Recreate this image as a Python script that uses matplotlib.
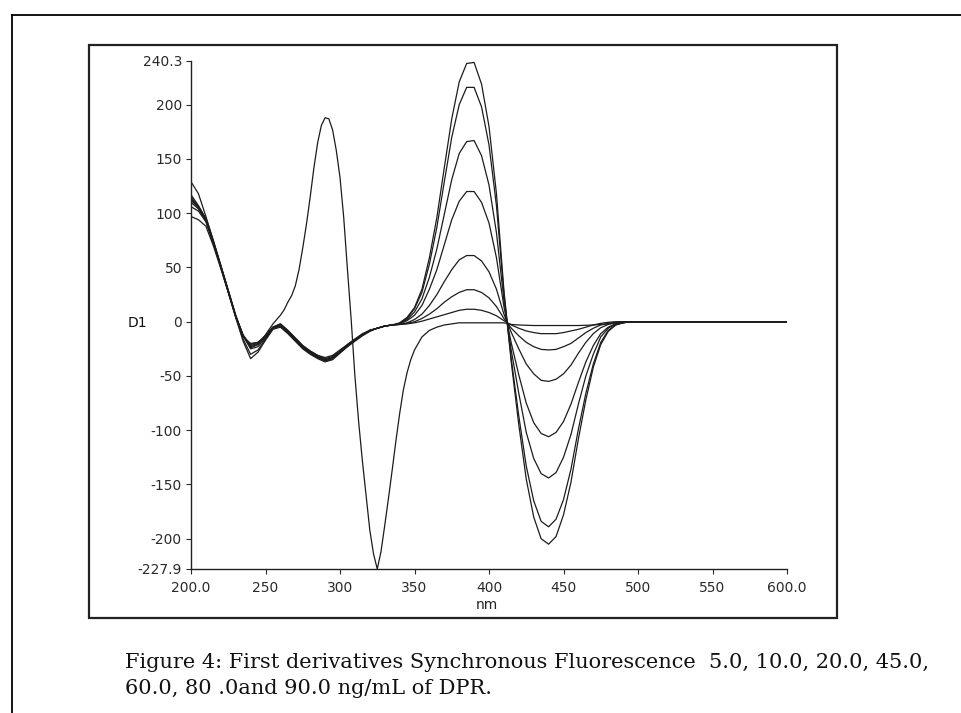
import matplotlib
matplotlib.use('Agg')
import matplotlib.pyplot as plt
import matplotlib.patches as patches
from matplotlib.lines import Line2D

# wavelength grid (nm), flat tail up to 600
nm = list(range(200, 505, 5)) + [600]

# first-derivative curves, one per concentration (ng/mL)
d1_90 = [113, 106, 95, 74, 51, 28, 5, -13, -22, -20,
         -13, -5, -3, -9, -16, -23, -28, -32, -35, -33,
         -28, -22, -17, -12, -8, -6, -4, -3, -1, 4,
         13, 30, 59, 96, 142, 187, 221, 238, 239, 219,
         180, 118, 29, -38, -95, -145, -180, -200, -205, -198,
         -178, -148, -108, -72, -42, -21, -9, -3, -1, 0,
         0, 0]
d1_80 = [117, 107, 95, 74, 52, 29, 6, -13, -21, -19,
         -13, -5, -2, -8, -15, -22, -27, -31, -34, -32,
         -27, -21, -16, -12, -8, -6, -4, -3, -1.5, 3,
         12, 27, 53, 87, 129, 170, 200, 216, 216, 198,
         163, 107, 26, -35, -87, -133, -165, -184, -189, -182,
         -164, -136, -99, -66, -39, -19, -8, -3, -1, 0,
         0, 0]
d1_60 = [129, 118, 97, 75, 52, 29, 6, -14, -20, -19,
         -13, -5, -2, -8, -15, -22, -27, -31, -33, -31,
         -26, -21, -16, -11, -8, -6, -4, -3, -2, 2,
         9, 21, 41, 67, 99, 131, 155, 166, 167, 153,
         126, 82, 20, -27, -66, -102, -126, -140, -144, -139,
         -125, -104, -76, -50, -30, -14, -6, -2, -1, 0,
         0, 0]
d1_45 = [110, 104, 93, 73, 51, 28, 5, -12, -23, -21,
         -14, -6, -3, -9, -16, -23, -28, -32, -35, -33,
         -28, -22, -17, -12, -8, -6, -4, -3, -2, 1,
         6, 15, 30, 48, 71, 94, 111, 120, 120, 110,
         91, 59, 14, -20, -49, -75, -93, -103, -106, -102,
         -92, -76, -56, -37, -22, -11, -5, -2, -0.5, 0,
         0, 0]
d1_20 = [115, 106, 94, 74, 51, 28, 5, -13, -25, -23,
         -15, -6, -4, -10, -17, -24, -29, -33, -36, -34,
         -28, -22, -17, -12, -8, -6, -4, -3, -2.5, -1,
         2, 7, 15, 25, 37, 48, 57, 61, 61, 56,
         46, 30, 7, -10, -25, -39, -48, -54, -55, -53,
         -48, -40, -29, -19, -11, -5.5, -2.5, -1, 0, 0,
         0, 0]
d1_10 = [106, 102, 92, 72, 50, 27, 4, -16, -30, -26,
         -16, -6, -4, -10, -17, -24, -29, -33, -36, -34,
         -28, -23, -17, -12, -8, -6, -4, -3, -2.5, -1.5,
         0, 3, 7, 12, 18, 23, 27, 29.5, 29.5, 27,
         22, 14, 3, -6, -13, -19, -23, -25.5, -26, -25.5,
         -23, -20, -15, -10, -6, -3, -1.5, -0.5, 0, 0,
         0, 0]
d1_5 = [97, 94, 88, 70, 49, 27, 4, -18, -34, -28,
        -17, -7, -5, -11, -18, -25, -30, -34, -37, -35,
        -29, -23, -18, -13, -9, -6, -4, -3, -2.5, -2,
        -1, 0.5, 2.5, 4.5, 6.5, 8.5, 10.5, 11.5, 11.5, 10.5,
        8.5, 5.5, 1, -3, -6, -8.5, -10, -11, -11, -11,
        -10, -8.5, -7, -5, -3, -1.5, -0.5, 0, 0, 0,
        0, 0]

# the extra trace with the band at 290 / 325 nm, read on a finer grid there
nm_other = ([200, 205, 210, 215, 220, 225, 230, 235, 240, 245, 250, 255]
            + [260 + 2.5 * i for i in range(37)]
            + [355, 360, 365, 370, 375, 380, 390, 400, 410, 415, 420,
               430, 440, 450, 460, 470, 475, 480, 485, 490, 495, 500, 600])
d1_other = ([112, 105, 94, 73, 51, 28, 5, -13, -24, -21, -12, -2]
            + [6, 11, 18, 24, 33, 48, 68, 90, 115, 142,
               165, 181, 188, 187, 177, 158, 133, 96, 48, 2,
               -50, -92, -128, -160, -192, -214, -227.9, -212, -188, -163,
               -137, -110, -85, -63, -47, -35, -26]
            + [-14, -8, -5, -3, -2, -1, -1, -1, -1, -2.5, -3,
               -3.5, -3.5, -3.5, -3.5, -3, -2.5, -2, -1, -0.5, 0, 0, 0])

xticks = [200, 250, 300, 350, 400, 450, 500, 550, 600]
xlabels = ['200.0', '250', '300', '350', '400', '450', '500', '550', '600.0']
yticks = [-227.9, -200, -150, -100, -50, 0, 50, 100, 150, 200, 240.3]
ylabels = ['-227.9', '-200', '-150', '-100', '-50', '0', '50', '100', '150', '200', '240.3']

caption = ['Figure 4: First derivatives Synchronous Fluorescence  5.0, 10.0, 20.0, 45.0,',
           '60.0, 80 .0and 90.0 ng/mL of DPR.']

W, H = 962, 713
fig = plt.figure(figsize=(W / 100, H / 100), dpi=100)
ax = fig.add_axes([191 / W, 1 - 569 / H, (787 - 191) / W, (569 - 61) / H])

ax.plot(nm_other, d1_other, color='#1c1c1c', linewidth=0.9)
for y in [d1_5, d1_10, d1_20, d1_45, d1_60, d1_80, d1_90]:
    ax.plot(nm, y, color='#1c1c1c', linewidth=0.9)

ax.set_xlim(200, 600)
ax.set_ylim(-227.9, 240.3)
ax.set_xticks(xticks)
ax.set_xticklabels(xlabels)
ax.set_yticks(yticks)
ax.set_yticklabels(ylabels)
ax.tick_params(direction='out', length=3.5, width=0.8, labelsize=10,
               labelcolor='#2a2a2a', color='#2a2a2a')
ax.tick_params(axis='x', pad=5)
ax.tick_params(axis='y', pad=3)
for s in ['top', 'right']:
    ax.spines[s].set_visible(False)
for s in ['left', 'bottom']:
    ax.spines[s].set_linewidth(1.0)
    ax.spines[s].set_color('#222222')

fig.text(137 / W, 1 - 323 / H, 'D1', fontsize=10, ha='center', va='center',
         color='#111111')
fig.text(487 / W, 1 - 605 / H, 'nm', fontsize=10, ha='center', va='center',
         color='#222222')

# panel frame around the chart
fig.add_artist(patches.Rectangle((89 / W, 1 - 618 / H), (837 - 89) / W, (618 - 45) / H,
                                 transform=fig.transFigure, fill=False,
                                 linewidth=1.6, edgecolor='#222222'))
# page edge lines of the scan
fig.add_artist(Line2D([11.7 / W, 1], [1 - 14.7 / H, 1 - 14.7 / H],
                      transform=fig.transFigure, color='black', linewidth=1.3))
fig.add_artist(Line2D([11.7 / W, 11.7 / W], [0, 1 - 14.7 / H],
                      transform=fig.transFigure, color='black', linewidth=1.3))

fig.text(125 / W, 1 - 663 / H, caption[0], family='DejaVu Serif', fontsize=15,
         va='center', color='#111111')
fig.text(125 / W, 1 - 688 / H, caption[1], family='DejaVu Serif', fontsize=15,
         va='center', color='#111111')

fig.savefig('out.png', dpi=100)
